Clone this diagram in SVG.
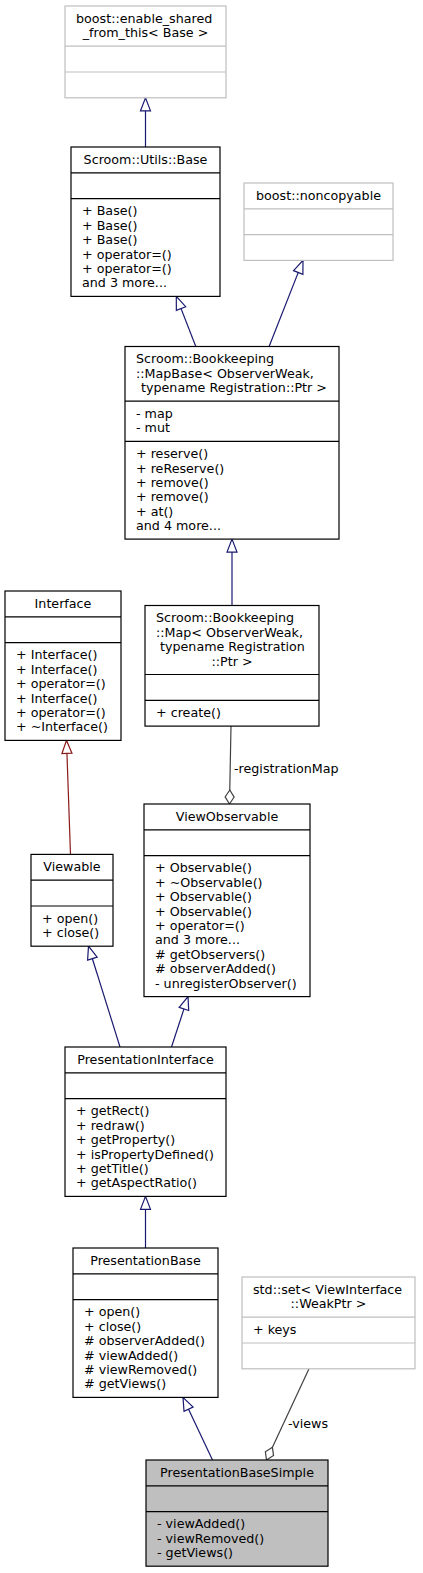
<svg xmlns="http://www.w3.org/2000/svg" width="423" height="1573" viewBox="0 0 423 1573">
<style>
text{font-family:"DejaVu Sans","Liberation Sans",sans-serif;font-size:12.7px;fill:#000}
.c{text-anchor:middle}
.n rect{fill:#fff;stroke:#000;stroke-width:1.2}
.n line{stroke:#000;stroke-width:1.2}
.g rect{stroke:#bfbfbf}
.g line{stroke:#bfbfbf}
.sel rect{fill:#bfbfbf}
.e{fill:none;stroke-width:1.2}
.b{stroke:#191970;marker-end:url(#inh)}
.r{stroke:#8b1a1a;marker-end:url(#inhr)}
.a{stroke:#404040;marker-end:url(#agg)}
</style>
<defs>
<marker id="inh" markerUnits="userSpaceOnUse" markerWidth="18" markerHeight="14" viewBox="-2 -7 18 14" refX="13" refY="0" orient="auto"><path d="M0,-5 L13,0 L0,5 Z" fill="#fff" stroke="#191970" stroke-width="1.2"/></marker>
<marker id="inhr" markerUnits="userSpaceOnUse" markerWidth="18" markerHeight="14" viewBox="-2 -7 18 14" refX="13" refY="0" orient="auto"><path d="M0,-5 L13,0 L0,5 Z" fill="#fff" stroke="#8b1a1a" stroke-width="1.2"/></marker>
<marker id="agg" markerUnits="userSpaceOnUse" markerWidth="18" markerHeight="12" viewBox="-2 -6 18 12" refX="14" refY="0" orient="auto"><path d="M0,0 L7,-4.5 L14,0 L7,4.5 Z" fill="#fff" stroke="#404040" stroke-width="1.2"/></marker>
</defs>

<g id="edges">
<line class="e b" x1="145.5" y1="147" x2="145.5" y2="97.8"/>
<line class="e b" x1="195.8" y1="346.5" x2="176.3" y2="296.4"/>
<line class="e b" x1="269.1" y1="346.5" x2="303" y2="260.4"/>
<line class="e b" x1="232" y1="605.5" x2="232" y2="539.1"/>
<line class="e a" x1="231" y1="726.1" x2="229.5" y2="804"/>
<text x="234" y="773">-registrationMap</text>
<line class="e r" x1="70.5" y1="854.4" x2="66.5" y2="740.4"/>
<line class="e b" x1="120" y1="1047" x2="88.5" y2="946.2"/>
<line class="e b" x1="171.5" y1="1047" x2="188" y2="996.6"/>
<line class="e b" x1="145.5" y1="1248" x2="145.5" y2="1196.4"/>
<line class="e b" x1="212.5" y1="1460" x2="183" y2="1397.4"/>
<line class="e a" x1="309" y1="1368.8" x2="266.5" y2="1460"/>
<text x="288" y="1428">-views</text>
</g>

<g id="enable_shared_from_this" class="n g">
<rect x="65" y="6" width="161" height="91.8"/>
<line x1="65" y1="46.2" x2="226" y2="46.2"/>
<line x1="65" y1="72" x2="226" y2="72"/>
<text x="76" y="22.8">boost::enable_shared</text>
<text class="c" x="145.5" y="37.2">_from_this&lt; Base &gt;</text>
</g>

<g id="Base" class="n">
<rect x="71" y="147" width="149" height="149.4"/>
<line x1="71" y1="172.8" x2="220" y2="172.8"/>
<line x1="71" y1="198.6" x2="220" y2="198.6"/>
<text class="c" x="145.5" y="163.8">Scroom::Utils::Base</text>
<text x="82" y="215.4">+ Base()</text>
<text x="82" y="229.8">+ Base()</text>
<text x="82" y="244.2">+ Base()</text>
<text x="82" y="258.6">+ operator=()</text>
<text x="82" y="273">+ operator=()</text>
<text x="82" y="287.4">and 3 more...</text>
</g>

<g id="noncopyable" class="n g">
<rect x="244" y="183" width="149" height="77.4"/>
<line x1="244" y1="208.8" x2="393" y2="208.8"/>
<line x1="244" y1="234.6" x2="393" y2="234.6"/>
<text class="c" x="318.5" y="199.8">boost::noncopyable</text>
</g>

<g id="MapBase" class="n">
<rect x="125" y="346.5" width="214" height="192.6"/>
<line x1="125" y1="401.1" x2="339" y2="401.1"/>
<line x1="125" y1="441.3" x2="339" y2="441.3"/>
<text x="136" y="363.3">Scroom::Bookkeeping</text>
<text x="136" y="377.7">::MapBase&lt; ObserverWeak,</text>
<text class="c" x="234" y="392.1">typename Registration::Ptr &gt;</text>
<text x="136" y="417.9">- map</text>
<text x="136" y="432.3">- mut</text>
<text x="136" y="458.1">+ reserve()</text>
<text x="136" y="472.5">+ reReserve()</text>
<text x="136" y="486.9">+ remove()</text>
<text x="136" y="501.3">+ remove()</text>
<text x="136" y="515.7">+ at()</text>
<text x="136" y="530.1">and 4 more...</text>
</g>

<g id="Map" class="n">
<rect x="145" y="605.5" width="174" height="120.6"/>
<line x1="145" y1="674.5" x2="319" y2="674.5"/>
<line x1="145" y1="700.3" x2="319" y2="700.3"/>
<text x="156" y="622.3">Scroom::Bookkeeping</text>
<text x="156" y="636.7">::Map&lt; ObserverWeak,</text>
<text x="160" y="651.1">typename Registration</text>
<text class="c" x="232" y="665.5">::Ptr &gt;</text>
<text x="156" y="717.1">+ create()</text>
</g>

<g id="Interface" class="n">
<rect x="5" y="591" width="116" height="149.4"/>
<line x1="5" y1="616.8" x2="121" y2="616.8"/>
<line x1="5" y1="642.6" x2="121" y2="642.6"/>
<text class="c" x="63" y="607.8">Interface</text>
<text x="16" y="659.4">+ Interface()</text>
<text x="16" y="673.8">+ Interface()</text>
<text x="16" y="688.2">+ operator=()</text>
<text x="16" y="702.6">+ Interface()</text>
<text x="16" y="717">+ operator=()</text>
<text x="16" y="731.4">+ ~Interface()</text>
</g>

<g id="ViewObservable" class="n">
<rect x="144" y="804" width="166" height="192.6"/>
<line x1="144" y1="829.8" x2="310" y2="829.8"/>
<line x1="144" y1="855.6" x2="310" y2="855.6"/>
<text class="c" x="227" y="820.8">ViewObservable</text>
<text x="155" y="872.4">+ Observable()</text>
<text x="155" y="886.8">+ ~Observable()</text>
<text x="155" y="901.2">+ Observable()</text>
<text x="155" y="915.6">+ Observable()</text>
<text x="155" y="930">+ operator=()</text>
<text x="155" y="944.4">and 3 more...</text>
<text x="155" y="958.8"># getObservers()</text>
<text x="155" y="973.2"># observerAdded()</text>
<text x="155" y="987.6">- unregisterObserver()</text>
</g>

<g id="Viewable" class="n">
<rect x="31" y="854.4" width="82" height="91.8"/>
<line x1="31" y1="880.2" x2="113" y2="880.2"/>
<line x1="31" y1="906" x2="113" y2="906"/>
<text class="c" x="72" y="871.2">Viewable</text>
<text x="42" y="922.8">+ open()</text>
<text x="42" y="937.2">+ close()</text>
</g>

<g id="PresentationInterface" class="n">
<rect x="65" y="1047" width="161" height="149.4"/>
<line x1="65" y1="1072.8" x2="226" y2="1072.8"/>
<line x1="65" y1="1098.6" x2="226" y2="1098.6"/>
<text class="c" x="145.5" y="1063.8">PresentationInterface</text>
<text x="76" y="1115.4">+ getRect()</text>
<text x="76" y="1129.8">+ redraw()</text>
<text x="76" y="1144.2">+ getProperty()</text>
<text x="76" y="1158.6">+ isPropertyDefined()</text>
<text x="76" y="1173">+ getTitle()</text>
<text x="76" y="1187.4">+ getAspectRatio()</text>
</g>

<g id="PresentationBase" class="n">
<rect x="73" y="1248" width="145" height="149.4"/>
<line x1="73" y1="1273.8" x2="218" y2="1273.8"/>
<line x1="73" y1="1299.6" x2="218" y2="1299.6"/>
<text class="c" x="145.5" y="1264.8">PresentationBase</text>
<text x="84" y="1316.4">+ open()</text>
<text x="84" y="1330.8">+ close()</text>
<text x="84" y="1345.2"># observerAdded()</text>
<text x="84" y="1359.6"># viewAdded()</text>
<text x="84" y="1374"># viewRemoved()</text>
<text x="84" y="1388.4"># getViews()</text>
</g>

<g id="std_set" class="n g">
<rect x="242" y="1277" width="173" height="91.8"/>
<line x1="242" y1="1317.2" x2="415" y2="1317.2"/>
<line x1="242" y1="1343" x2="415" y2="1343"/>
<text x="253" y="1293.8">std::set&lt; ViewInterface</text>
<text class="c" x="328.5" y="1308.2">::WeakPtr &gt;</text>
<text x="253" y="1333.8">+ keys</text>
</g>

<g id="PresentationBaseSimple" class="n sel">
<rect x="146" y="1460" width="182" height="106.2"/>
<line x1="146" y1="1485.8" x2="328" y2="1485.8"/>
<line x1="146" y1="1511.6" x2="328" y2="1511.6"/>
<text class="c" x="237" y="1476.8">PresentationBaseSimple</text>
<text x="157" y="1528.4">- viewAdded()</text>
<text x="157" y="1542.8">- viewRemoved()</text>
<text x="157" y="1557.2">- getViews()</text>
</g>
</svg>
